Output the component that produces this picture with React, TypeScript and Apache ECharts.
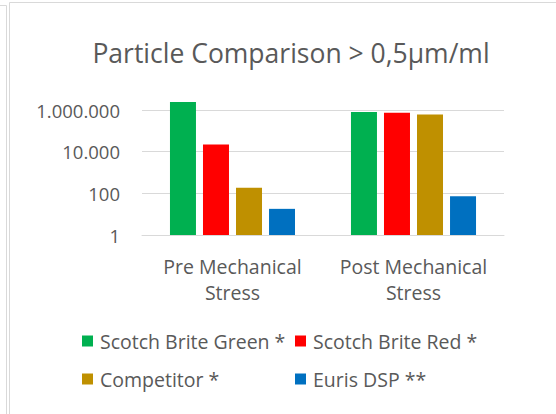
import React, { useEffect, useRef } from "react";
import * as echarts from "echarts";

const categories = ["Pre Mechanical\nStress", "Post Mechanical\nStress"];
const seriesNames = ["Scotch Brite Green *", "Scotch Brite Red *", "Competitor *", "Euris DSP **"];
const greenValues = [2400000, 800000];
const redValues = [22000, 740000];
const competitorValues = [185, 600000];
const eurisValues = [18, 72];
const colors = ["#00B050", "#FF0000", "#BF9000", "#0070C0"];
const titleText = "Particle Comparison > 0,5µm/ml";

const FONT = "Open Sans";
const TEXT = "#595959";

function fmt(v: number): string {
  return String(Math.round(v)).replace(/\B(?=(\d{3})+(?!\d))/g, ".");
}

export default function App() {
  const ref = useRef<HTMLDivElement>(null);
  useEffect(() => {
    if (!ref.current) return;
    const chart = echarts.init(ref.current, undefined, { renderer: "svg" });
    const values = [greenValues, redValues, competitorValues, eurisValues];
    const legendPos = [
      { left: 82, top: 331 },
      { left: 295, top: 331 },
      { left: 82, top: 369 },
      { left: 295, top: 369 },
    ];
    chart.setOption({
      animation: false,
      backgroundColor: "#ffffff",
      title: {
        text: titleText,
        left: 286,
        textAlign: "center",
        top: 34,
        textStyle: { fontFamily: FONT, fontSize: 26.5, fontWeight: "normal", color: TEXT },
      },
      grid: { left: 142, right: 52, top: 110, height: 125, containLabel: false },
      legend: seriesNames.map((n, i) => ({
        data: [n],
        left: legendPos[i].left,
        top: legendPos[i].top,
        icon: "rect",
        itemWidth: 11,
        itemHeight: 11,
        padding: 0,
        textStyle: { fontFamily: FONT, fontSize: 19.5, color: TEXT, padding: [0, 0, 0, 2] },
        selectedMode: false,
      })),
      xAxis: {
        type: "category",
        data: categories,
        axisLine: { show: true, lineStyle: { color: "#d9d9d9", width: 1 } },
        axisTick: { show: false },
        axisLabel: {
          interval: 0,
          hideOverlap: false,
          fontFamily: FONT,
          fontSize: 19.5,
          color: TEXT,
          lineHeight: 26,
          margin: 18,
        },
      },
      yAxis: {
        type: "log",
        logBase: 100,
        min: 1,
        max: 1000000,
        axisLine: { show: false },
        axisTick: { show: false },
        splitLine: { show: true, lineStyle: { color: "#d9d9d9", width: 1 } },
        axisLabel: {
          fontFamily: FONT,
          fontSize: 18.5,
          color: TEXT,
          margin: 22,
          formatter: (v: number) => fmt(v),
        },
      },
      series: seriesNames.map((n, i) => ({
        name: n,
        type: "bar",
        data: values[i],
        barWidth: 26,
        barGap: "27%",
        clip: false,
        itemStyle: { color: colors[i] },
      })),
      graphic: [
        { type: "line", shape: { x1: 0, y1: 5.5, x2: 6.5, y2: 5.5 }, style: { stroke: "#d9d9d9", lineWidth: 1 } },
        { type: "line", shape: { x1: 6.5, y1: 5.5, x2: 6.5, y2: 414 }, style: { stroke: "#d9d9d9", lineWidth: 1 } },
        { type: "line", shape: { x1: 9.5, y1: 2.5, x2: 556, y2: 2.5 }, style: { stroke: "#d9d9d9", lineWidth: 1 } },
        { type: "line", shape: { x1: 9.5, y1: 2.5, x2: 9.5, y2: 414 }, style: { stroke: "#d9d9d9", lineWidth: 1 } },
      ],
    });
    return () => chart.dispose();
  }, []);
  return <div ref={ref} style={{ width: 556, height: 414, position: "absolute", left: 0, top: 0 }} />;
}
